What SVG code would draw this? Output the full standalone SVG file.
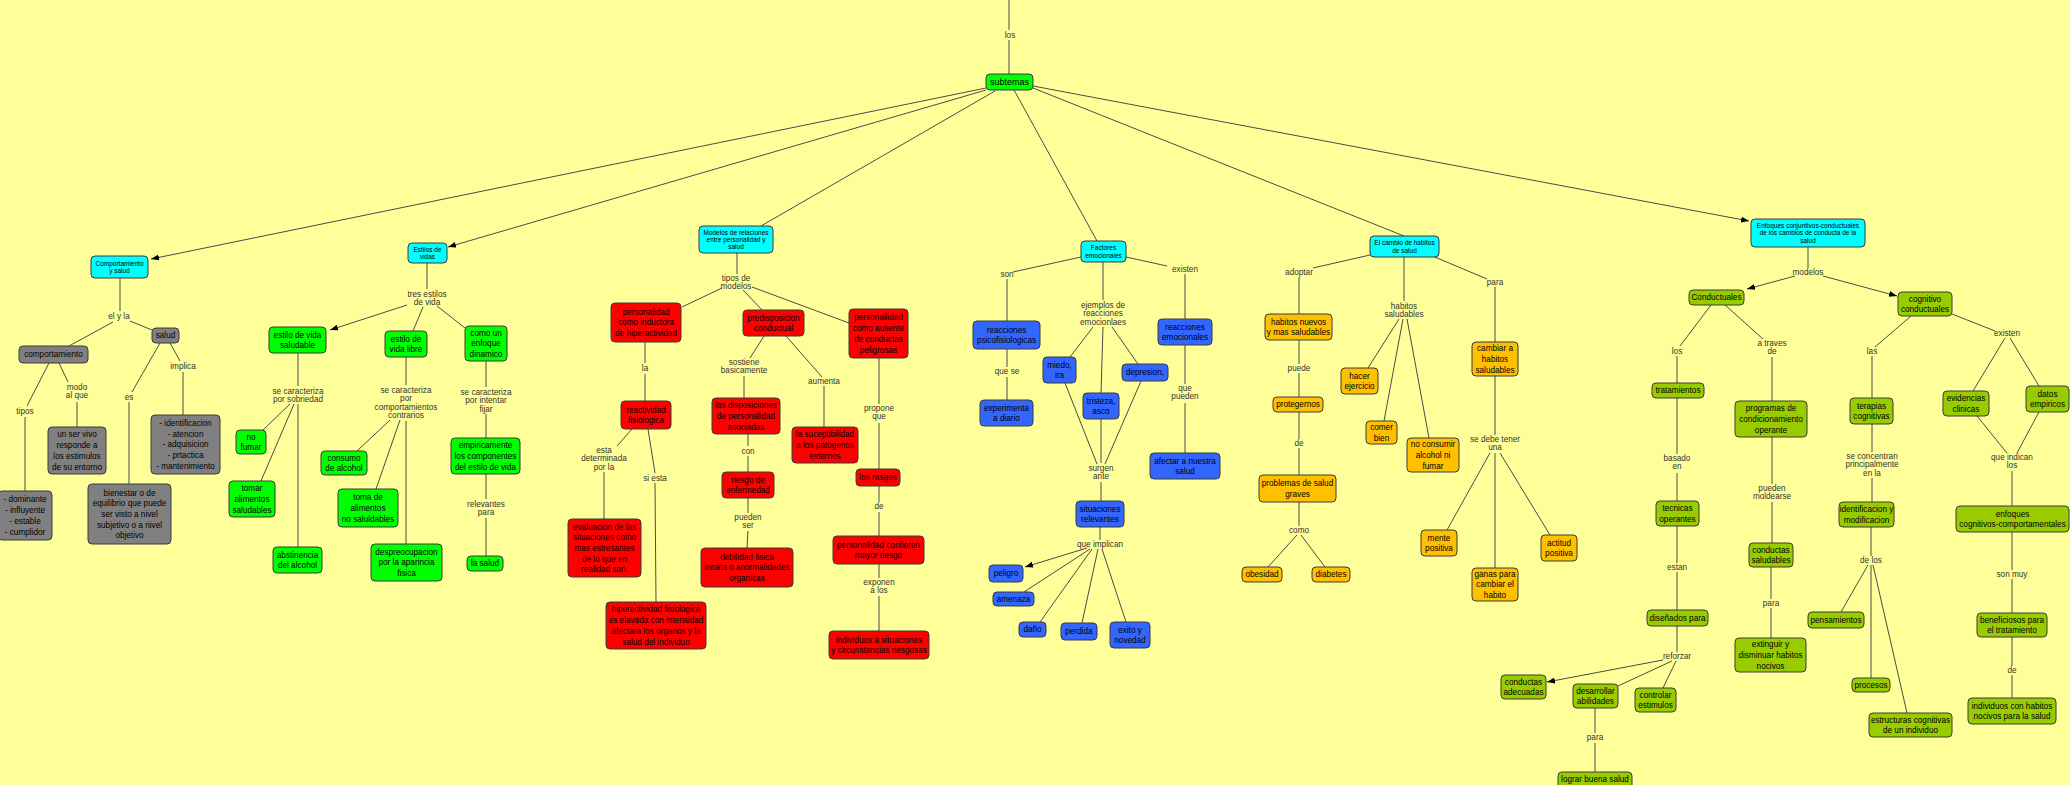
<svg xmlns="http://www.w3.org/2000/svg" width="2070" height="785" viewBox="0 0 2070 785">
<style>
.n rect{stroke:#3a3a3a;stroke-width:1}
.cy rect{fill:#00ffff}.gr rect{fill:#808080}.g rect{fill:#00ff00}.r rect{fill:#ff0000}.b rect{fill:#3366ff}.o rect{fill:#ffc000}.ol rect{fill:#99cc00}
.n text{font-family:"Liberation Sans",Arial,sans-serif;font-size:8.2px;fill:#000;text-anchor:middle}
.cy text{font-size:6.5px}
.lk text{font-family:"Liberation Sans",Arial,sans-serif;font-size:8.2px;fill:#333;text-anchor:middle}
#edges line{stroke:#4a4a4a;stroke-width:1}
#edges line.a{marker-end:url(#ar)}
</style>
<defs><marker id="ar" markerWidth="9" markerHeight="7" refX="8" refY="3" orient="auto" markerUnits="userSpaceOnUse"><path d="M0,0 L8,3 L0,6 z" fill="#000"/></marker></defs>
<rect width="2070" height="785" fill="#ffff99"/>
<g id="edges">
<line x1="1009" y1="0" x2="1009" y2="30"/><line x1="1009" y1="40" x2="1009" y2="74"/>
<line class="a" x1="986" y1="88" x2="151" y2="259"/>
<line class="a" x1="986" y1="90" x2="448" y2="247"/>
<line x1="995" y1="91" x2="761" y2="226"/>
<line x1="1014" y1="90" x2="1097" y2="241"/>
<line x1="1033" y1="88" x2="1404" y2="236"/>
<line class="a" x1="1033" y1="86" x2="1749" y2="221"/>
<line x1="120" y1="278" x2="120" y2="311"/><line x1="113" y1="322" x2="69" y2="346"/><line x1="130" y1="321" x2="152" y2="330"/>
<line x1="49" y1="363" x2="27" y2="406"/><line x1="25" y1="417" x2="25" y2="491"/><line x1="59" y1="363" x2="68" y2="382"/>
<line x1="77" y1="402" x2="77" y2="427"/><line x1="160" y1="343" x2="132" y2="392"/><line x1="129" y1="402" x2="129" y2="484"/>
<line x1="170" y1="343" x2="180" y2="361"/><line x1="183" y1="372" x2="183" y2="415"/>
<line x1="427" y1="263" x2="427" y2="289"/><line class="a" x1="407" y1="305" x2="330" y2="330"/><line x1="423" y1="307" x2="413" y2="331"/>
<line x1="437" y1="306" x2="465" y2="328"/><line x1="298" y1="353" x2="298" y2="386"/><line x1="290" y1="404" x2="263" y2="430"/>
<line x1="294" y1="404" x2="261" y2="481"/><line x1="298" y1="404" x2="298" y2="547"/><line x1="406" y1="357" x2="406" y2="385"/>
<line x1="390" y1="420" x2="357" y2="451"/><line x1="400" y1="420" x2="376" y2="489"/><line x1="406" y1="421" x2="406" y2="544"/>
<line x1="486" y1="361" x2="486" y2="387"/><line x1="486" y1="414" x2="486" y2="438"/><line x1="486" y1="474" x2="486" y2="499"/><line x1="486" y1="518" x2="486" y2="556"/>
<line x1="737" y1="253" x2="737" y2="274"/><line x1="722" y1="288" x2="682" y2="307"/><line x1="743" y1="290" x2="762" y2="310"/><line x1="752" y1="287" x2="849" y2="323"/>
<line x1="645" y1="342" x2="645" y2="363"/><line x1="645" y1="374" x2="645" y2="401"/><line x1="632" y1="429" x2="617" y2="446"/><line x1="604" y1="472" x2="604" y2="519"/>
<line x1="648" y1="429" x2="655" y2="473"/><line x1="655" y1="483" x2="656" y2="602"/><line x1="764" y1="336" x2="750" y2="358"/><line x1="744" y1="376" x2="744" y2="398"/>
<line x1="786" y1="336" x2="822" y2="377"/><line x1="824" y1="386" x2="824" y2="427"/><line x1="748" y1="434" x2="748" y2="446"/><line x1="748" y1="456" x2="748" y2="472"/>
<line x1="748" y1="498" x2="748" y2="513"/><line x1="748" y1="531" x2="747" y2="548"/><line x1="879" y1="358" x2="879" y2="404"/><line x1="879" y1="423" x2="879" y2="469"/>
<line x1="879" y1="486" x2="879" y2="502"/><line x1="879" y1="512" x2="879" y2="536"/><line x1="879" y1="564" x2="879" y2="578"/><line x1="879" y1="596" x2="879" y2="631"/>
<line x1="1081" y1="257" x2="1013" y2="272"/><line x1="1007" y1="279" x2="1007" y2="321"/><line x1="1007" y1="349" x2="1007" y2="367"/><line x1="1007" y1="377" x2="1007" y2="400"/>
<line x1="1103" y1="262" x2="1103" y2="300"/><line x1="1093" y1="327" x2="1070" y2="357"/><line x1="1103" y1="327" x2="1101" y2="393"/><line x1="1112" y1="327" x2="1138" y2="364"/>
<line x1="1065" y1="383" x2="1097" y2="464"/><line x1="1101" y1="419" x2="1101" y2="463"/><line x1="1141" y1="381" x2="1105" y2="464"/><line x1="1101" y1="482" x2="1101" y2="501"/>
<line x1="1100" y1="527" x2="1100" y2="540"/><line class="a" x1="1087" y1="548" x2="1025" y2="567"/><line x1="1090" y1="549" x2="1024" y2="592"/><line x1="1092" y1="549" x2="1040" y2="622"/>
<line x1="1098" y1="549" x2="1082" y2="623"/><line x1="1102" y1="549" x2="1126" y2="622"/><line x1="1126" y1="257" x2="1167" y2="266"/><line x1="1185" y1="274" x2="1185" y2="319"/>
<line x1="1185" y1="345" x2="1185" y2="384"/><line x1="1185" y1="403" x2="1185" y2="453"/>
<line x1="1370" y1="255" x2="1313" y2="268"/><line x1="1299" y1="277" x2="1299" y2="314"/><line x1="1299" y1="340" x2="1299" y2="364"/><line x1="1299" y1="373" x2="1299" y2="397"/>
<line x1="1299" y1="412" x2="1299" y2="439"/><line x1="1299" y1="448" x2="1299" y2="475"/><line x1="1299" y1="502" x2="1299" y2="526"/><line x1="1297" y1="535" x2="1268" y2="567"/>
<line x1="1301" y1="535" x2="1325" y2="567"/><line x1="1404" y1="257" x2="1404" y2="301"/><line x1="1399" y1="319" x2="1368" y2="368"/><line x1="1403" y1="319" x2="1384" y2="421"/>
<line x1="1407" y1="319" x2="1429" y2="438"/><line x1="1430" y1="255" x2="1487" y2="279"/><line x1="1495" y1="287" x2="1495" y2="342"/><line x1="1495" y1="376" x2="1495" y2="435"/>
<line x1="1490" y1="453" x2="1447" y2="530"/><line x1="1495" y1="453" x2="1495" y2="568"/><line x1="1500" y1="453" x2="1550" y2="535"/>
<line x1="1808" y1="247" x2="1808" y2="268"/><line class="a" x1="1795" y1="276" x2="1747" y2="289"/><line class="a" x1="1823" y1="276" x2="1897" y2="296"/>
<line x1="1711" y1="305" x2="1680" y2="346"/><line x1="1677" y1="356" x2="1677" y2="383"/><line x1="1677" y1="398" x2="1677" y2="454"/><line x1="1677" y1="473" x2="1677" y2="501"/>
<line x1="1677" y1="526" x2="1677" y2="563"/><line x1="1677" y1="572" x2="1677" y2="610"/><line x1="1677" y1="626" x2="1677" y2="652"/><line class="a" x1="1663" y1="660" x2="1547" y2="682"/>
<line x1="1672" y1="661" x2="1618" y2="686"/><line x1="1676" y1="661" x2="1663" y2="688"/><line x1="1595" y1="708" x2="1595" y2="733"/><line x1="1595" y1="743" x2="1595" y2="772"/>
<line x1="1725" y1="305" x2="1763" y2="339"/><line x1="1772" y1="357" x2="1772" y2="401"/><line x1="1772" y1="437" x2="1772" y2="484"/><line x1="1772" y1="502" x2="1772" y2="543"/>
<line x1="1771" y1="567" x2="1771" y2="599"/><line x1="1771" y1="608" x2="1771" y2="638"/><line x1="1911" y1="316" x2="1875" y2="347"/><line x1="1872" y1="356" x2="1872" y2="398"/>
<line x1="1872" y1="424" x2="1872" y2="452"/><line x1="1872" y1="478" x2="1872" y2="502"/><line x1="1871" y1="527" x2="1871" y2="556"/><line x1="1868" y1="565" x2="1841" y2="612"/>
<line x1="1871" y1="565" x2="1871" y2="678"/><line x1="1873" y1="565" x2="1907" y2="713"/><line x1="1952" y1="314" x2="1995" y2="331"/><line x1="2005" y1="338" x2="1973" y2="391"/>
<line x1="2010" y1="338" x2="2039" y2="386"/><line x1="1977" y1="416" x2="2007" y2="453"/><line x1="2039" y1="412" x2="2017" y2="453"/><line x1="2012" y1="471" x2="2012" y2="506"/>
<line x1="2012" y1="532" x2="2012" y2="570"/><line x1="2012" y1="579" x2="2012" y2="613"/><line x1="2012" y1="637" x2="2012" y2="666"/><line x1="2012" y1="675" x2="2012" y2="698"/>
</g>
<g id="labels" class="lk">
<text x="1010" y="38">los</text>
<text x="119" y="319">el y la</text>
<text x="25" y="414">tipos</text>
<text x="77" y="390"><tspan x="77">modo</tspan><tspan x="77" dy="8.3">al que</tspan></text>
<text x="129" y="400">es</text>
<text x="183" y="369">implica</text>
<text x="427" y="297"><tspan x="427">tres estilos</tspan><tspan x="427" dy="8.3">de vida</tspan></text>
<text x="298" y="394"><tspan x="298">se caracteriza</tspan><tspan x="298" dy="8.3">por sobriedad</tspan></text>
<text x="406" y="393"><tspan x="406">se caracteriza</tspan><tspan x="406" dy="8.3">por</tspan><tspan x="406" dy="8.3">comportamientos</tspan><tspan x="406" dy="8.3">contrarios</tspan></text>
<text x="486" y="395"><tspan x="486">se caracteriza</tspan><tspan x="486" dy="8.3">por intentar</tspan><tspan x="486" dy="8.3">fijar</tspan></text>
<text x="486" y="507"><tspan x="486">relevantes</tspan><tspan x="486" dy="8.3">para</tspan></text>
<text x="736" y="281"><tspan x="736">tipos de</tspan><tspan x="736" dy="8.3">modelos</tspan></text>
<text x="645" y="371">la</text>
<text x="604" y="453"><tspan x="604">esta</tspan><tspan x="604" dy="8.3">determinada</tspan><tspan x="604" dy="8.3">por la</tspan></text>
<text x="655" y="481">si esta</text>
<text x="744" y="365"><tspan x="744">sostiene</tspan><tspan x="744" dy="8.3">basicamente</tspan></text>
<text x="824" y="384">aumenta</text>
<text x="748" y="454">con</text>
<text x="748" y="520"><tspan x="748">pueden</tspan><tspan x="748" dy="8.3">ser</tspan></text>
<text x="879" y="411"><tspan x="879">propone</tspan><tspan x="879" dy="8.3">que</tspan></text>
<text x="879" y="509">de</text>
<text x="879" y="585"><tspan x="879">exponen</tspan><tspan x="879" dy="8.3">a los</tspan></text>
<text x="1007" y="277">son</text>
<text x="1007" y="374">que se</text>
<text x="1103" y="308"><tspan x="1103">ejemplos de</tspan><tspan x="1103" dy="8.3">reacciones</tspan><tspan x="1103" dy="8.3">emocionlaes</tspan></text>
<text x="1101" y="471"><tspan x="1101">surgen</tspan><tspan x="1101" dy="8.3">ante</tspan></text>
<text x="1100" y="547">que implican</text>
<text x="1185" y="272">existen</text>
<text x="1185" y="391"><tspan x="1185">que</tspan><tspan x="1185" dy="8.3">pueden</tspan></text>
<text x="1299" y="275">adoptar</text>
<text x="1299" y="371">puede</text>
<text x="1299" y="446">de</text>
<text x="1299" y="533">como</text>
<text x="1404" y="309"><tspan x="1404">habitos</tspan><tspan x="1404" dy="8.3">saludables</tspan></text>
<text x="1495" y="285">para</text>
<text x="1495" y="442"><tspan x="1495">se debe tener</tspan><tspan x="1495" dy="8.3">una</tspan></text>
<text x="1808" y="275">modelos</text>
<text x="1677" y="354">los</text>
<text x="1677" y="461"><tspan x="1677">basado</tspan><tspan x="1677" dy="8.3">en</tspan></text>
<text x="1677" y="570">estan</text>
<text x="1677" y="659">reforzar</text>
<text x="1595" y="740">para</text>
<text x="1772" y="346"><tspan x="1772">a traves</tspan><tspan x="1772" dy="8.3">de</tspan></text>
<text x="1772" y="491"><tspan x="1772">pueden</tspan><tspan x="1772" dy="8.3">moldearse</tspan></text>
<text x="1771" y="606">para</text>
<text x="1872" y="354">las</text>
<text x="1872" y="459"><tspan x="1872">se concentran</tspan><tspan x="1872" dy="8.3">principalmente</tspan><tspan x="1872" dy="8.3">en la</tspan></text>
<text x="1871" y="563">de los</text>
<text x="2007" y="336">existen</text>
<text x="2012" y="460"><tspan x="2012">que indican</tspan><tspan x="2012" dy="8.3">los</tspan></text>
<text x="2012" y="577">son muy</text>
<text x="2012" y="673">de</text>
</g>
<g id="subtemas" class="n g"><rect x="986" y="74" width="47" height="16" rx="4"/><text x="1009.5" y="85.2" style="font-size:9px">subtemas</text></g>
<g id="comp-salud" class="n cy"><rect x="91" y="256" width="57" height="22" rx="4"/><text x="119.5" y="265.6"><tspan x="119.5">Comportamiento</tspan><tspan x="119.5" dy="7.3">y salud</tspan></text></g>
<g id="estilos" class="n cy"><rect x="408" y="243" width="39" height="20" rx="4"/><text x="427.5" y="251.6"><tspan x="427.5">Estilos de</tspan><tspan x="427.5" dy="7.3">vidas</tspan></text></g>
<g id="modelos-rel" class="n cy"><rect x="699" y="226" width="74" height="27" rx="4"/><text x="736" y="234.5"><tspan x="736">Modelos de relaciones</tspan><tspan x="736" dy="7.3">entre personalidad y</tspan><tspan x="736" dy="7.3">salud</tspan></text></g>
<g id="factores" class="n cy"><rect x="1081" y="241" width="45" height="21" rx="4"/><text x="1103.5" y="250.2"><tspan x="1103.5">Factores</tspan><tspan x="1103.5" dy="7.3">emocionales</tspan></text></g>
<g id="cambio" class="n cy"><rect x="1370" y="236" width="69" height="21" rx="4"/><text x="1404.5" y="245.2"><tspan x="1404.5">El cambio de habitos</tspan><tspan x="1404.5" dy="7.3">de salud</tspan></text></g>
<g id="enfoques" class="n cy"><rect x="1751" y="219" width="114" height="28" rx="4"/><text x="1808" y="228"><tspan x="1808">Enfoques conjuntivos-conductuales</tspan><tspan x="1808" dy="7.3">de los cambios de conducta de la</tspan><tspan x="1808" dy="7.3">salud</tspan></text></g>
<g id="comportamiento" class="n gr"><rect x="19" y="346" width="69" height="17" rx="4"/><text x="53.5" y="357.4">comportamiento</text></g>
<g id="salud" class="n gr"><rect x="152" y="328" width="27" height="15" rx="4"/><text x="165.5" y="338.4">salud</text></g>
<g id="ser-vivo" class="n gr"><rect x="48" y="427" width="58" height="47" rx="4"/><text x="77" y="437.4"><tspan x="77">un ser vivo</tspan><tspan x="77" dy="10.7">responde a</tspan><tspan x="77" dy="10.7">los estimulos</tspan><tspan x="77" dy="10.7">de su entorno</tspan></text></g>
<g id="tipos-list" class="n gr"><rect x="-2" y="491" width="54" height="49" rx="4"/><text x="25" y="502.4"><tspan x="25">- dominante</tspan><tspan x="25" dy="10.7">- influyente</tspan><tspan x="25" dy="10.7">- estable</tspan><tspan x="25" dy="10.7">- cumplidor</tspan></text></g>
<g id="bienestar" class="n gr"><rect x="88" y="484" width="83" height="60" rx="4"/><text x="129.5" y="495.5"><tspan x="129.5">bienestar o de</tspan><tspan x="129.5" dy="10.7">equilibrio que puede</tspan><tspan x="129.5" dy="10.7">ser visto a nivel</tspan><tspan x="129.5" dy="10.7">subjetivo o a nivel</tspan><tspan x="129.5" dy="10.7">objetivo</tspan></text></g>
<g id="identificacion" class="n gr"><rect x="151" y="415" width="69" height="59" rx="4"/><text x="185.5" y="426"><tspan x="185.5">- identificacion</tspan><tspan x="185.5" dy="10.7">- atencion</tspan><tspan x="185.5" dy="10.7">- adquisicion</tspan><tspan x="185.5" dy="10.7">- prtactica</tspan><tspan x="185.5" dy="10.7">- mantenimiento</tspan></text></g>
<g id="vida-saludable" class="n g"><rect x="269" y="327" width="57" height="26" rx="4"/><text x="297.5" y="337.6"><tspan x="297.5">estilo de vida</tspan><tspan x="297.5" dy="10.7">saludable</tspan></text></g>
<g id="vida-libre" class="n g"><rect x="385" y="331" width="42" height="26" rx="4"/><text x="406" y="341.6"><tspan x="406">estilo de</tspan><tspan x="406" dy="10.7">vida libre</tspan></text></g>
<g id="dinamico" class="n g"><rect x="465" y="326" width="42" height="35" rx="4"/><text x="486" y="335.7"><tspan x="486">como un</tspan><tspan x="486" dy="10.7">enfoque</tspan><tspan x="486" dy="10.7">dinamico</tspan></text></g>
<g id="no-fumar" class="n g"><rect x="236" y="430" width="30" height="24" rx="4"/><text x="251" y="439.6"><tspan x="251">no</tspan><tspan x="251" dy="10.7">fumar</tspan></text></g>
<g id="tomar-alimentos" class="n g"><rect x="229" y="481" width="46" height="36" rx="4"/><text x="252" y="491.2"><tspan x="252">tomar</tspan><tspan x="252" dy="10.7">alimentos</tspan><tspan x="252" dy="10.7">saludables</tspan></text></g>
<g id="abstinencia" class="n g"><rect x="273" y="547" width="49" height="26" rx="4"/><text x="297.5" y="557.6"><tspan x="297.5">abstinencia</tspan><tspan x="297.5" dy="10.7">del alcohol</tspan></text></g>
<g id="consumo" class="n g"><rect x="321" y="451" width="46" height="24" rx="4"/><text x="344" y="460.6"><tspan x="344">consumo</tspan><tspan x="344" dy="10.7">de alcohol</tspan></text></g>
<g id="toma-alimentos" class="n g"><rect x="338" y="489" width="60" height="38" rx="4"/><text x="368" y="500.2"><tspan x="368">toma de</tspan><tspan x="368" dy="10.7">alimentos</tspan><tspan x="368" dy="10.7">no saluldables</tspan></text></g>
<g id="despreocupacion" class="n g"><rect x="371" y="544" width="71" height="37" rx="4"/><text x="406.5" y="554.7"><tspan x="406.5">despreocupacion</tspan><tspan x="406.5" dy="10.7">por la aparincia</tspan><tspan x="406.5" dy="10.7">fisica</tspan></text></g>
<g id="empiricamente" class="n g"><rect x="451" y="438" width="69" height="36" rx="4"/><text x="485.5" y="448.2"><tspan x="485.5">empiricamente</tspan><tspan x="485.5" dy="10.7">los componentes</tspan><tspan x="485.5" dy="10.7">del estilo de vida</tspan></text></g>
<g id="la-salud" class="n g"><rect x="467" y="556" width="36" height="15" rx="4"/><text x="485" y="566.4">la salud</text></g>
<g id="inductora" class="n r"><rect x="611" y="303" width="70" height="39" rx="4"/><text x="646" y="314.7"><tspan x="646">personalidad</tspan><tspan x="646" dy="10.7">como inductora</tspan><tspan x="646" dy="10.7">de hiperactividad</tspan></text></g>
<g id="predisposicion" class="n r"><rect x="743" y="310" width="61" height="26" rx="4"/><text x="773.5" y="320.6"><tspan x="773.5">predisposicion</tspan><tspan x="773.5" dy="10.7">conductual</tspan></text></g>
<g id="ausente" class="n r"><rect x="849" y="309" width="59" height="49" rx="4"/><text x="878.5" y="320.4"><tspan x="878.5">personallidad</tspan><tspan x="878.5" dy="10.7">como ausente</tspan><tspan x="878.5" dy="10.7">de conductas</tspan><tspan x="878.5" dy="10.7">peligrosas</tspan></text></g>
<g id="reactividad" class="n r"><rect x="621" y="401" width="50" height="28" rx="4"/><text x="646" y="412.6"><tspan x="646">reactividad</tspan><tspan x="646" dy="10.7">fisiologica</tspan></text></g>
<g id="evaluacion" class="n r"><rect x="568" y="519" width="73" height="58" rx="4"/><text x="604.5" y="529.5"><tspan x="604.5">evaluacion de las</tspan><tspan x="604.5" dy="10.7">situaciones como</tspan><tspan x="604.5" dy="10.7">mas estresantes</tspan><tspan x="604.5" dy="10.7">de lo que en</tspan><tspan x="604.5" dy="10.7">realidad son.</tspan></text></g>
<g id="hiperactividad" class="n r"><rect x="606" y="602" width="100" height="47" rx="4"/><text x="656" y="612.4"><tspan x="656">hiperactividad fisiologica</tspan><tspan x="656" dy="10.7">es elavada con intensidad</tspan><tspan x="656" dy="10.7">afectara los organos y la</tspan><tspan x="656" dy="10.7">salud del individuo</tspan></text></g>
<g id="disposiciones" class="n r"><rect x="712" y="398" width="68" height="36" rx="4"/><text x="746" y="408.2"><tspan x="746">las disposiciones</tspan><tspan x="746" dy="10.7">de personalidad</tspan><tspan x="746" dy="10.7">asociadas</tspan></text></g>
<g id="suceptibilidad" class="n r"><rect x="792" y="427" width="66" height="36" rx="4"/><text x="825" y="437.2"><tspan x="825">la suceptibilidad</tspan><tspan x="825" dy="10.7">a los patogenos</tspan><tspan x="825" dy="10.7">externos</tspan></text></g>
<g id="riesgo" class="n r"><rect x="722" y="472" width="52" height="26" rx="4"/><text x="748" y="482.6"><tspan x="748">riesgo de</tspan><tspan x="748" dy="10.7">enfermedad</tspan></text></g>
<g id="debilidad" class="n r"><rect x="701" y="548" width="92" height="39" rx="4"/><text x="747" y="559.7"><tspan x="747">debilidad fisica</tspan><tspan x="747" dy="10.7">innata o anormalidades</tspan><tspan x="747" dy="10.7">organicas</tspan></text></g>
<g id="rasgos" class="n r"><rect x="856" y="469" width="44" height="17" rx="4"/><text x="878" y="480.4">los rasgos</text></g>
<g id="confieren" class="n r"><rect x="833" y="536" width="91" height="28" rx="4"/><text x="878.5" y="547.6"><tspan x="878.5">personalidad confieren</tspan><tspan x="878.5" dy="10.7">mayor riesgo</tspan></text></g>
<g id="individuos-riesgo" class="n r"><rect x="829" y="631" width="100" height="28" rx="4"/><text x="879" y="642.6"><tspan x="879">individuos a situaciones</tspan><tspan x="879" dy="10.7">y circunstancias riesgosas</tspan></text></g>
<g id="psicofisiologicas" class="n b"><rect x="973" y="321" width="67" height="28" rx="4"/><text x="1006.5" y="332.6"><tspan x="1006.5">reacciones</tspan><tspan x="1006.5" dy="10.7">psicofisiologicas</tspan></text></g>
<g id="experimenta" class="n b"><rect x="980" y="400" width="53" height="26" rx="4"/><text x="1006.5" y="410.6"><tspan x="1006.5">experimenta</tspan><tspan x="1006.5" dy="10.7">a diario</tspan></text></g>
<g id="miedo" class="n b"><rect x="1043" y="357" width="33" height="26" rx="4"/><text x="1059.5" y="367.6"><tspan x="1059.5">miedo,</tspan><tspan x="1059.5" dy="10.7">ira</tspan></text></g>
<g id="tristeza" class="n b"><rect x="1083" y="393" width="36" height="26" rx="4"/><text x="1101" y="403.6"><tspan x="1101">tristeza,</tspan><tspan x="1101" dy="10.7">asco</tspan></text></g>
<g id="depresion" class="n b"><rect x="1122" y="364" width="46" height="17" rx="4"/><text x="1145" y="375.4">depresion,</text></g>
<g id="situaciones" class="n b"><rect x="1076" y="501" width="48" height="26" rx="4"/><text x="1100" y="511.6"><tspan x="1100">situaciones</tspan><tspan x="1100" dy="10.7">relevantes</tspan></text></g>
<g id="peligro" class="n b"><rect x="989" y="565" width="34" height="17" rx="4"/><text x="1006" y="576.4">peligro</text></g>
<g id="amenaza" class="n b"><rect x="993" y="592" width="41" height="14" rx="4"/><text x="1013.5" y="601.9">amenaza</text></g>
<g id="dano" class="n b"><rect x="1019" y="622" width="27" height="15" rx="4"/><text x="1032.5" y="632.4">daño</text></g>
<g id="perdida" class="n b"><rect x="1061" y="623" width="36" height="17" rx="4"/><text x="1079" y="634.4">perdida</text></g>
<g id="exito" class="n b"><rect x="1110" y="622" width="40" height="26" rx="4"/><text x="1130" y="632.6"><tspan x="1130">exito y</tspan><tspan x="1130" dy="10.7">novedad</tspan></text></g>
<g id="reacciones-emocionales" class="n b"><rect x="1158" y="319" width="54" height="26" rx="4"/><text x="1185" y="329.6"><tspan x="1185">reacciones</tspan><tspan x="1185" dy="10.7">emocionales</tspan></text></g>
<g id="afectar" class="n b"><rect x="1150" y="453" width="70" height="26" rx="4"/><text x="1185" y="463.6"><tspan x="1185">afectar a nuestra</tspan><tspan x="1185" dy="10.7">salud</tspan></text></g>
<g id="habitos-nuevos" class="n o"><rect x="1265" y="314" width="67" height="26" rx="4"/><text x="1298.5" y="324.6"><tspan x="1298.5">habitos nuevos</tspan><tspan x="1298.5" dy="10.7">y mas saludables</tspan></text></g>
<g id="protegernos" class="n o"><rect x="1273" y="397" width="50" height="15" rx="4"/><text x="1298" y="407.4">protegernos</text></g>
<g id="problemas" class="n o"><rect x="1259" y="475" width="77" height="27" rx="4"/><text x="1297.5" y="486.1"><tspan x="1297.5">problemas de salud</tspan><tspan x="1297.5" dy="10.7">graves</tspan></text></g>
<g id="obesidad" class="n o"><rect x="1242" y="567" width="40" height="15" rx="4"/><text x="1262" y="577.4">obesidad</text></g>
<g id="diabetes" class="n o"><rect x="1312" y="567" width="38" height="15" rx="4"/><text x="1331" y="577.4">diabetes</text></g>
<g id="ejercicio" class="n o"><rect x="1341" y="368" width="37" height="26" rx="4"/><text x="1359.5" y="378.6"><tspan x="1359.5">hacer</tspan><tspan x="1359.5" dy="10.7">ejercicio</tspan></text></g>
<g id="comer-bien" class="n o"><rect x="1366" y="421" width="31" height="23" rx="4"/><text x="1381.5" y="430.1"><tspan x="1381.5">comer</tspan><tspan x="1381.5" dy="10.7">bien</tspan></text></g>
<g id="no-consumir" class="n o"><rect x="1407" y="438" width="52" height="34" rx="4"/><text x="1433" y="447.2"><tspan x="1433">no consumir</tspan><tspan x="1433" dy="10.7">alcohol ni</tspan><tspan x="1433" dy="10.7">fumar</tspan></text></g>
<g id="cambiar" class="n o"><rect x="1472" y="342" width="46" height="34" rx="4"/><text x="1495" y="351.2"><tspan x="1495">cambiar a</tspan><tspan x="1495" dy="10.7">habitos</tspan><tspan x="1495" dy="10.7">saludables</tspan></text></g>
<g id="mente" class="n o"><rect x="1421" y="530" width="36" height="26" rx="4"/><text x="1439" y="540.6"><tspan x="1439">mente</tspan><tspan x="1439" dy="10.7">positiva</tspan></text></g>
<g id="ganas" class="n o"><rect x="1472" y="568" width="46" height="33" rx="4"/><text x="1495" y="576.7"><tspan x="1495">ganas para</tspan><tspan x="1495" dy="10.7">cambiar el</tspan><tspan x="1495" dy="10.7">habito</tspan></text></g>
<g id="actitud" class="n o"><rect x="1541" y="535" width="36" height="26" rx="4"/><text x="1559" y="545.6"><tspan x="1559">actitud</tspan><tspan x="1559" dy="10.7">positiva</tspan></text></g>
<g id="conductuales" class="n ol"><rect x="1689" y="290" width="55" height="15" rx="4"/><text x="1716.5" y="300.4">Conductuales</text></g>
<g id="cognitivo" class="n ol"><rect x="1898" y="292" width="54" height="24" rx="4"/><text x="1925" y="301.6"><tspan x="1925">cognitivo</tspan><tspan x="1925" dy="10.7">conductuales</tspan></text></g>
<g id="tratamientos" class="n ol"><rect x="1652" y="383" width="52" height="15" rx="4"/><text x="1678" y="393.4">tratamientos</text></g>
<g id="tecnicas" class="n ol"><rect x="1656" y="501" width="43" height="25" rx="4"/><text x="1677.5" y="511.1"><tspan x="1677.5">tecnicas</tspan><tspan x="1677.5" dy="10.7">operantes</tspan></text></g>
<g id="disenados" class="n ol"><rect x="1647" y="610" width="61" height="16" rx="4"/><text x="1677.5" y="620.9">diseñados para</text></g>
<g id="conductas-adecuadas" class="n ol"><rect x="1501" y="675" width="45" height="24" rx="4"/><text x="1523.5" y="684.6"><tspan x="1523.5">conductas</tspan><tspan x="1523.5" dy="10.7">adecuadas</tspan></text></g>
<g id="desarrollar" class="n ol"><rect x="1573" y="684" width="45" height="24" rx="4"/><text x="1595.5" y="693.6"><tspan x="1595.5">desarrollar</tspan><tspan x="1595.5" dy="10.7">abilidades</tspan></text></g>
<g id="controlar" class="n ol"><rect x="1635" y="688" width="41" height="24" rx="4"/><text x="1655.5" y="697.6"><tspan x="1655.5">controlar</tspan><tspan x="1655.5" dy="10.7">estimulos</tspan></text></g>
<g id="lograr" class="n ol"><rect x="1558" y="772" width="74" height="20" rx="4"/><text x="1595" y="782">lograr buena salud</text></g>
<g id="programas" class="n ol"><rect x="1735" y="401" width="72" height="36" rx="4"/><text x="1771" y="411.2"><tspan x="1771">programas de</tspan><tspan x="1771" dy="10.7">condicionamiento</tspan><tspan x="1771" dy="10.7">operante</tspan></text></g>
<g id="conductas-saludables" class="n ol"><rect x="1749" y="543" width="44" height="24" rx="4"/><text x="1771" y="552.6"><tspan x="1771">conductas</tspan><tspan x="1771" dy="10.7">saludables</tspan></text></g>
<g id="extinguir" class="n ol"><rect x="1735" y="638" width="71" height="34" rx="4"/><text x="1770.5" y="647.2"><tspan x="1770.5">extinguir y</tspan><tspan x="1770.5" dy="10.7">disminuar habitos</tspan><tspan x="1770.5" dy="10.7">nocivos</tspan></text></g>
<g id="terapias" class="n ol"><rect x="1850" y="398" width="43" height="26" rx="4"/><text x="1871.5" y="408.6"><tspan x="1871.5">terapias</tspan><tspan x="1871.5" dy="10.7">cognitivas</tspan></text></g>
<g id="identificacion-mod" class="n ol"><rect x="1839" y="502" width="55" height="25" rx="4"/><text x="1866.5" y="512.1"><tspan x="1866.5">identificacion y</tspan><tspan x="1866.5" dy="10.7">modificacion</tspan></text></g>
<g id="pensamientos" class="n ol"><rect x="1808" y="612" width="56" height="16" rx="4"/><text x="1836" y="622.9">pensamientos</text></g>
<g id="procesos" class="n ol"><rect x="1852" y="678" width="38" height="14" rx="4"/><text x="1871" y="687.9">procesos</text></g>
<g id="estructuras" class="n ol"><rect x="1869" y="713" width="83" height="24" rx="4"/><text x="1910.5" y="722.6"><tspan x="1910.5">estructuras cognitivas</tspan><tspan x="1910.5" dy="10.7">de un individuo</tspan></text></g>
<g id="evidencias" class="n ol"><rect x="1943" y="391" width="46" height="25" rx="4"/><text x="1966" y="401.1"><tspan x="1966">evidencias</tspan><tspan x="1966" dy="10.7">clinicas</tspan></text></g>
<g id="datos" class="n ol"><rect x="2026" y="386" width="43" height="26" rx="4"/><text x="2047.5" y="396.6"><tspan x="2047.5">datos</tspan><tspan x="2047.5" dy="10.7">empiricos</tspan></text></g>
<g id="enfoques-cc" class="n ol"><rect x="1956" y="506" width="113" height="26" rx="4"/><text x="2012.5" y="516.6"><tspan x="2012.5">enfoques</tspan><tspan x="2012.5" dy="10.7">cognitivos-comportamentales</tspan></text></g>
<g id="beneficiosos" class="n ol"><rect x="1977" y="613" width="70" height="24" rx="4"/><text x="2012" y="622.6"><tspan x="2012">beneficiosos para</tspan><tspan x="2012" dy="10.7">el tratamiento</tspan></text></g>
<g id="individuos-nocivos" class="n ol"><rect x="1968" y="698" width="88" height="26" rx="4"/><text x="2012" y="708.6"><tspan x="2012">individuos con habitos</tspan><tspan x="2012" dy="10.7">nocivos para la salud</tspan></text></g>
</svg>
